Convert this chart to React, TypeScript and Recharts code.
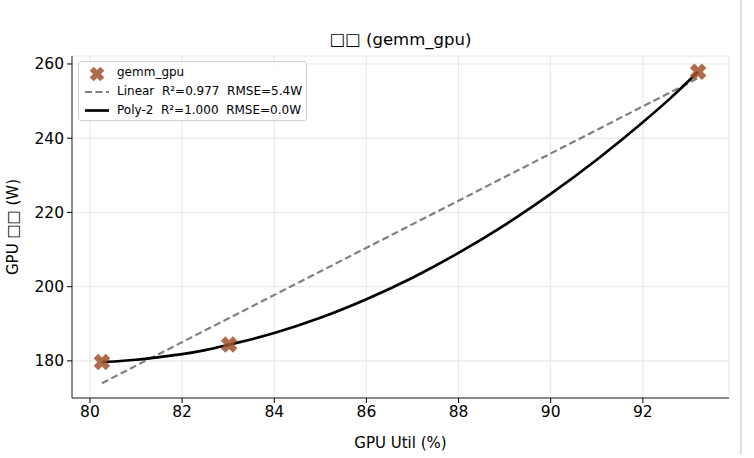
import { ComposedChart, XAxis, YAxis, CartesianGrid, Line, Scatter } from 'recharts'

// measured points (GPU util %, power W)
const utilX = [80.26, 83.02, 93.2]
const powerY = [179.7, 184.4, 257.9]

// linear fit, read at both ends
const linX = [80.26, 93.2]
const linY = [174.0, 256.2]

// poly-2 fit
const polyX = [80.26, 80.6, 81, 81.5, 82, 82.5, 83, 84, 85, 86, 87, 88, 89, 90, 91, 92, 92.6, 93.2]
const polyY = [179.7, 179.9, 180.3, 181.0, 181.8, 182.9, 184.3, 187.5, 191.6, 196.6, 202.4, 209.1, 216.6, 225.0, 234.2, 244.3, 250.8, 257.9]

const xTicks = [80, 82, 84, 86, 88, 90, 92]
const yTicks = [180, 200, 220, 240, 260]

const scatterData = utilX.map((x, i) => ({ x, y: powerY[i] }))
const linData = linX.map((x, i) => ({ x, y: linY[i] }))
const polyData = polyX.map((x, i) => ({ x, y: polyY[i] }))

const FONT = '"DejaVu Sans", sans-serif'
const MARKER = '#a0522d'

const xPath = (cx: number, cy: number, r: number, w: number) => {
  // plus sign rotated 45deg
  const pts: [number, number][] = [
    [-w, -r], [w, -r], [w, -w], [r, -w], [r, w], [w, w],
    [w, r], [-w, r], [-w, w], [-r, w], [-r, -w], [-w, -w],
  ]
  const c = Math.SQRT1_2
  return (
    pts
      .map(([px, py], i) => {
        const rx = (px - py) * c + cx
        const ry = (px + py) * c + cy
        return `${i === 0 ? 'M' : 'L'}${rx.toFixed(2)},${ry.toFixed(2)}`
      })
      .join(' ') + ' Z'
  )
}

const XMarker = (props: any) => {
  const { cx, cy } = props
  if (cx == null || cy == null) return null
  return <path d={xPath(cx, cy, 8.5, 3.2)} fill={MARKER} fillOpacity={0.85} />
}

const Legend = () => (
  <div
    style={{
      position: 'absolute',
      left: 78,
      top: 61,
      width: 229,
      height: 60,
      border: '1px solid #d0d0d0',
      borderRadius: 3,
      background: 'rgba(255,255,255,0.85)',
      fontFamily: FONT,
      fontSize: 12,
      color: '#000',
      boxSizing: 'border-box',
    }}
  >
    <svg width={30} height={58} style={{ position: 'absolute', left: 4, top: 0 }}>
      <path d={xPath(14, 12, 7.5, 2.8)} fill={MARKER} fillOpacity={0.85} />
      <line x1={2} x2={26} y1={30} y2={30} stroke="#808080" strokeWidth={2.2} strokeDasharray="7 3.5" />
      <line x1={2} x2={26} y1={48.5} y2={48.5} stroke="#000" strokeWidth={2.7} />
    </svg>
    <div style={{ position: 'absolute', left: 38, top: 3, whiteSpace: 'pre' }}>gemm_gpu</div>
    <div style={{ position: 'absolute', left: 38, top: 21.5, whiteSpace: 'pre' }}>Linear  R²=0.977  RMSE=5.4W</div>
    <div style={{ position: 'absolute', left: 38, top: 40.5, whiteSpace: 'pre' }}>Poly-2  R²=1.000  RMSE=0.0W</div>
  </div>
)

export default function App() {
  return (
    <div style={{ position: 'fixed', left: 0, top: 0, width: 754, height: 458, background: '#fff', fontFamily: FONT }}>
      <div
        style={{
          position: 'absolute',
          left: 72,
          width: 657,
          top: 30,
          textAlign: 'center',
          fontSize: 16.5,
          color: '#000',
        }}
      >
        □□ (gemm_gpu)
      </div>
      <ComposedChart
        width={754}
        height={458}
        margin={{ top: 56, right: 25, bottom: 30, left: 12 }}
        style={{ position: 'absolute', left: 0, top: 0 }}
      >
        <CartesianGrid stroke="#e6e6e6" strokeWidth={1} horizontal vertical />
        <XAxis
          type="number"
          dataKey="x"
          domain={[79.61, 93.87]}
          ticks={xTicks}
          allowDataOverflow
          height={30}
          tickSize={5}
          tickMargin={3}
          tick={{ fill: '#000', fontSize: 15.5, fontFamily: FONT }}
          tickLine={{ stroke: '#000' }}
          axisLine={{ stroke: '#222' }}
          label={{ value: 'GPU Util (%)', position: 'bottom', offset: 9, fill: '#000', fontSize: 15, fontFamily: FONT }}
        />
        <XAxis
          xAxisId="top"
          orientation="top"
          type="number"
          domain={[79.61, 93.87]}
          height={0}
          tick={false}
          tickLine={false}
          axisLine={{ stroke: '#222' }}
        />
        <YAxis
          type="number"
          dataKey="y"
          domain={[170, 262.15]}
          ticks={yTicks}
          allowDataOverflow
          width={60}
          tickSize={5}
          tickMargin={3}
          tick={{ fill: '#000', fontSize: 15.5, fontFamily: FONT }}
          tickLine={{ stroke: '#000' }}
          axisLine={{ stroke: '#222' }}
          label={{
            value: 'GPU □□ (W)',
            angle: -90,
            position: 'insideLeft',
            offset: 1,
            style: { textAnchor: 'middle' },
            fill: '#000',
            fontSize: 15,
            fontFamily: FONT,
          }}
        />
        <YAxis
          yAxisId="right"
          orientation="right"
          type="number"
          domain={[170, 262.15]}
          width={0}
          tick={false}
          tickLine={false}
          axisLine={{ stroke: '#222' }}
        />
        <Line
          data={linData}
          dataKey="y"
          type="linear"
          stroke="#808080"
          strokeWidth={2.2}
          strokeDasharray="7 3.5"
          dot={false}
          isAnimationActive={false}
        />
        <Line
          data={polyData}
          dataKey="y"
          type="monotone"
          stroke="#000"
          strokeWidth={2.7}
          dot={false}
          isAnimationActive={false}
        />
        <Scatter data={scatterData} dataKey="y" shape={<XMarker />} isAnimationActive={false} />
      </ComposedChart>
      <Legend />
      <div style={{ position: 'absolute', left: 740, top: 0, width: 2, height: 455, background: '#dde0e6' }} />
    </div>
  )
}
